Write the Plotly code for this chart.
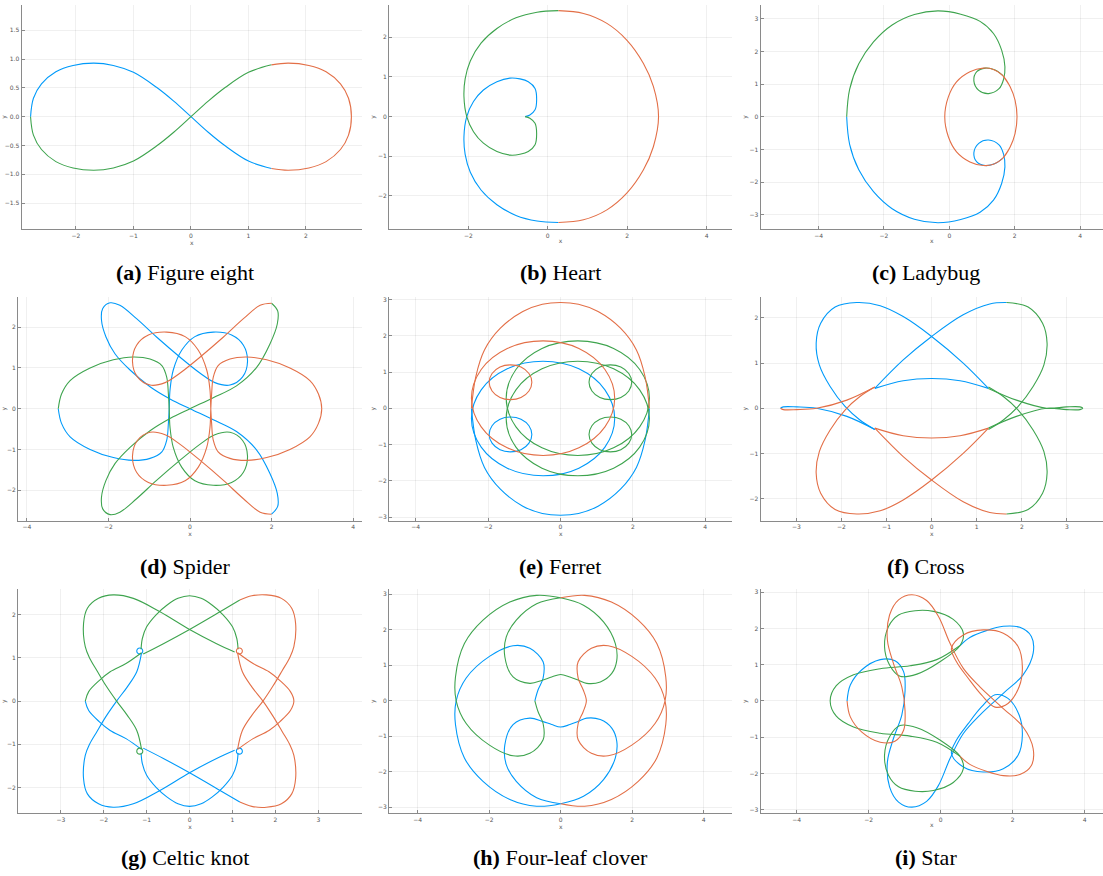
import plotly.graph_objects as go

BLUE = "#009AFA"
RED = "#E36F47"
GREEN = "#3EA44E"

# ---------------- (a) Figure eight ----------------
fig8_blue_x = [1.40, 1.0, 0.6, 0.3, 0.0, -0.3, -0.6, -1.0, -1.35, -1.69, -2.05, -2.35, -2.6, -2.74, -2.79]
fig8_blue_y = [-0.90, -0.77, -0.51, -0.27, 0.0, 0.27, 0.51, 0.77, 0.89, 0.93, 0.89, 0.78, 0.57, 0.32, 0.0]
fig8_green_x = [-2.79, -2.74, -2.6, -2.35, -2.05, -1.69, -1.35, -1.0, -0.6, -0.3, 0.0, 0.3, 0.6, 1.0, 1.40]
fig8_green_y = [0.0, -0.32, -0.57, -0.78, -0.89, -0.93, -0.89, -0.77, -0.51, -0.27, 0.0, 0.27, 0.51, 0.77, 0.90]
fig8_red_x = [1.40, 1.69, 2.05, 2.35, 2.6, 2.74, 2.79, 2.74, 2.6, 2.35, 2.05, 1.69, 1.40]
fig8_red_y = [0.90, 0.93, 0.89, 0.78, 0.57, 0.32, 0.0, -0.32, -0.57, -0.78, -0.89, -0.93, -0.90]

# ---------------- (b) Heart ----------------
heart_blue_x = [-0.57, -0.45, -0.32, -0.28, -0.32, -0.49, -0.70, -0.95, -1.28, -1.62, -1.87, -2.04,
                -2.11, -2.08, -1.95, -1.68, -1.28, -0.80, -0.27, 0.27]
heart_blue_y = [0.0, 0.04, 0.17, 0.42, 0.71, 0.88, 0.95, 0.97, 0.88, 0.67, 0.38, 0.0,
                -0.50, -0.95, -1.40, -1.85, -2.22, -2.49, -2.63, -2.67]
heart_green_x = [0.27, -0.27, -0.80, -1.28, -1.68, -1.95, -2.08, -2.11, -2.04, -1.87, -1.62, -1.28,
                 -0.95, -0.70, -0.49, -0.32, -0.28, -0.32, -0.45, -0.57]
heart_green_y = [2.67, 2.63, 2.49, 2.22, 1.85, 1.40, 0.95, 0.50, 0.0, -0.38, -0.67, -0.88,
                 -0.97, -0.95, -0.88, -0.71, -0.42, -0.17, -0.04, 0.0]
heart_red_x = [0.27, 0.90, 1.49, 1.99, 2.41, 2.66, 2.79, 2.66, 2.41, 1.99, 1.49, 0.90, 0.27]
heart_red_y = [2.67, 2.60, 2.35, 1.93, 1.34, 0.76, 0.0, -0.76, -1.34, -1.93, -2.35, -2.60, -2.67]

# ---------------- (c) Ladybug ----------------
lady_green_x = [-3.14, -3.05, -2.77, -2.32, -1.75, -1.07, -0.35, 0.35, 0.94, 1.35, 1.60,
                1.70, 1.66, 1.52, 1.20, 0.90, 0.75, 0.84, 1.10, 1.40, 1.63]
lady_green_y = [0.0, 0.84, 1.62, 2.29, 2.81, 3.13, 3.24, 3.14, 2.92, 2.55, 2.04,
                1.53, 1.15, 0.86, 0.71, 0.81, 1.10, 1.38, 1.49, 1.43, 1.27]
lady_red_x = [1.63, 1.86, 2.01, 2.07, 2.01, 1.86, 1.63, 1.35, 1.04, 0.63, 0.22, -0.03, -0.14, -0.03,
              0.22, 0.63, 1.04, 1.35, 1.63, 1.86, 2.01, 2.07, 2.01, 1.86, 1.63]
lady_red_y = [1.27, 0.92, 0.51, 0.0, -0.51, -0.92, -1.27, -1.45, -1.49, -1.38, -1.07, -0.61, 0.0, 0.61,
              1.07, 1.38, 1.49, 1.45, 1.27, 0.92, 0.51, 0.0, -0.51, -0.92, -1.27]
lady_blue_x = [1.63, 1.40, 1.10, 0.84, 0.75, 0.90, 1.20, 1.52, 1.66, 1.70, 1.60, 1.35, 0.94, 0.35,
               -0.35, -1.07, -1.75, -2.32, -2.77, -3.05, -3.14]
lady_blue_y = [-1.27, -1.43, -1.49, -1.38, -1.10, -0.81, -0.71, -0.86, -1.15, -1.53, -2.04, -2.55, -2.92, -3.14,
               -3.24, -3.13, -2.81, -2.29, -1.62, -0.84, 0.0]

# ---------------- (d) Spider ----------------
spider_blue_x = [-3.23, -3.15, -2.94, -2.45, -1.88, -1.39, -0.98, -0.69, -0.57, -0.53,
                 -0.51, -0.49, -0.41, -0.20, 0.12, 0.57, 1.02, 1.31, 1.41, 1.29,
                 0.98, 0.61, 0.25, -0.25, -0.82, -1.31, -1.72, -1.96, -2.14, -2.17,
                 -2.06, -1.84, -1.47, -0.98, -0.49, 0.0, 0.57, 1.14, 1.63, 1.96,
                 2.14, 2.15, 2.00]
spider_blue_y = [0.0, -0.36, -0.69, -1.00, -1.20, -1.27, -1.22, -1.06, -0.77, -0.36,
                 0.0, 0.46, 0.95, 1.44, 1.77, 1.88, 1.81, 1.56, 1.16, 0.78,
                 0.58, 0.64, 0.87, 1.27, 1.76, 2.21, 2.54, 2.60, 2.46, 2.17,
                 1.76, 1.35, 0.95, 0.54, 0.24, 0.0, -0.27, -0.56, -1.01, -1.59,
                 -2.08, -2.40, -2.59]
spider_green_x = [2.00, 2.15, 2.14, 1.96, 1.63, 1.14, 0.57, 0.0, -0.49, -0.98,
                  -1.47, -1.84, -2.06, -2.17, -2.14, -1.96, -1.72, -1.31, -0.82, -0.25,
                  0.25, 0.61, 0.98, 1.29, 1.41, 1.31, 1.02, 0.57, 0.12, -0.20,
                  -0.41, -0.49, -0.51, -0.53, -0.57, -0.69, -0.98, -1.39, -1.88, -2.45,
                  -2.94, -3.15, -3.23]
spider_green_y = [2.59, 2.40, 2.08, 1.59, 1.01, 0.56, 0.27, 0.0, -0.24, -0.54,
                  -0.95, -1.35, -1.76, -2.17, -2.46, -2.60, -2.54, -2.21, -1.76, -1.27,
                  -0.87, -0.64, -0.58, -0.78, -1.16, -1.56, -1.81, -1.88, -1.77, -1.44,
                  -0.95, -0.46, 0.0, 0.36, 0.77, 1.06, 1.22, 1.27, 1.20, 1.00,
                  0.69, 0.36, 0.0]
spider_red_x = [2.00, 1.72, 1.31, 0.82, 0.25, -0.25, -0.61, -0.98, -1.29, -1.41,
                -1.31, -1.02, -0.57, -0.12, 0.20, 0.41, 0.49, 0.51, 0.53, 0.57,
                0.69, 0.98, 1.39, 1.88, 2.45, 2.94, 3.15, 3.23, 3.15, 2.94,
                2.45, 1.88, 1.39, 0.98, 0.69, 0.57, 0.53, 0.51, 0.49, 0.41,
                0.20, -0.12, -0.57, -1.02, -1.31, -1.41, -1.29, -0.98, -0.61, -0.25,
                0.25, 0.82, 1.31, 1.72, 2.00]
spider_red_y = [-2.59, -2.54, -2.21, -1.76, -1.27, -0.87, -0.64, -0.58, -0.78, -1.16,
                -1.56, -1.81, -1.88, -1.77, -1.44, -0.95, -0.46, 0.0, 0.36, 0.77,
                1.06, 1.22, 1.27, 1.20, 1.00, 0.69, 0.36, 0.0, -0.36, -0.69,
                -1.00, -1.20, -1.27, -1.22, -1.06, -0.77, -0.36, 0.0, 0.46, 0.95,
                1.44, 1.77, 1.88, 1.81, 1.56, 1.16, 0.78, 0.58, 0.64, 0.87,
                1.27, 1.76, 2.21, 2.54, 2.59]

# ---------------- (e) Ferret ----------------
ferret_red_x = [-2.46, -2.34, -2.10, -1.66, -1.04, -0.50, 0.0, 0.50, 1.04, 1.66, 2.10, 2.34, 2.46, None,
                1.50, 1.23, 0.51, -0.48, -1.47, -2.19, -2.46, -2.19, -1.47, -0.48, 0.51, 1.23, 1.50, None,
                -0.79, -0.87, -1.09, -1.38, -1.67, -1.89, -1.97, -1.89, -1.67, -1.38, -1.09, -0.87, -0.79]
ferret_red_y = [0.0, 0.87, 1.61, 2.21, 2.67, 2.87, 2.92, 2.87, 2.67, 2.21, 1.61, 0.87, 0.0, None,
                0.28, 1.07, 1.65, 1.86, 1.65, 1.07, 0.28, -0.51, -1.09, -1.30, -1.09, -0.51, 0.28, None,
                0.72, 0.96, 1.14, 1.20, 1.14, 0.96, 0.72, 0.48, 0.30, 0.24, 0.30, 0.48, 0.72]
ferret_blue_x = [-2.46, -2.34, -2.10, -1.66, -1.04, -0.50, 0.0, 0.50, 1.04, 1.66, 2.10, 2.34, 2.46, None,
                 1.50, 1.23, 0.51, -0.48, -1.47, -2.19, -2.46, -2.19, -1.47, -0.48, 0.51, 1.23, 1.50, None,
                 -0.79, -0.87, -1.09, -1.38, -1.67, -1.89, -1.97, -1.89, -1.67, -1.38, -1.09, -0.87, -0.79]
ferret_blue_y = [0.0, -0.88, -1.63, -2.23, -2.70, -2.90, -2.95, -2.90, -2.70, -2.23, -1.63, -0.88, 0.0, None,
                 -0.28, -1.07, -1.65, -1.86, -1.65, -1.07, -0.28, 0.51, 1.09, 1.30, 1.09, 0.51, -0.28, None,
                 -0.72, -0.96, -1.14, -1.20, -1.14, -0.96, -0.72, -0.48, -0.30, -0.24, -0.30, -0.48, -0.72]
ferret_green_x = [-1.50, -1.23, -0.51, 0.48, 1.47, 2.19, 2.46, 2.19, 1.47, 0.48, -0.51, -1.23, -1.50, None,
                  -1.50, -1.23, -0.51, 0.48, 1.47, 2.19, 2.46, 2.19, 1.47, 0.48, -0.51, -1.23, -1.50, None,
                  0.79, 0.87, 1.09, 1.38, 1.67, 1.89, 1.97, 1.89, 1.67, 1.38, 1.09, 0.87, 0.79, None,
                  0.79, 0.87, 1.09, 1.38, 1.67, 1.89, 1.97, 1.89, 1.67, 1.38, 1.09, 0.87, 0.79]
ferret_green_y = [0.28, 1.07, 1.65, 1.86, 1.65, 1.07, 0.28, -0.51, -1.09, -1.30, -1.09, -0.51, 0.28, None,
                  -0.28, -1.07, -1.65, -1.86, -1.65, -1.07, -0.28, 0.51, 1.09, 1.30, 1.09, 0.51, -0.28, None,
                  0.72, 0.96, 1.14, 1.20, 1.14, 0.96, 0.72, 0.48, 0.30, 0.24, 0.30, 0.48, 0.72, None,
                  -0.72, -0.96, -1.14, -1.20, -1.14, -0.96, -0.72, -0.48, -0.30, -0.24, -0.30, -0.48, -0.72]

# ---------------- (f) Cross ----------------
cross_blue_x = [-1.26, -0.63, 0.0, 0.70, 1.29, 1.66, None,
                -1.26, -0.63, 0.0, 0.63, 1.26, None,
                1.26, 0.70, 0.0, -0.63, -1.14, -1.66, -2.14, -2.46, -2.56, -2.49, -2.25, -1.92, -1.59, -1.26, None,
                -1.26, -1.88, -2.55, -2.99, -3.29, -3.35]
cross_blue_y = [0.44, 1.07, 1.59, 2.07, 2.31, 2.34, None,
                0.44, 0.61, 0.66, 0.61, 0.44, None,
                0.44, 1.00, 1.59, 2.03, 2.27, 2.34, 2.24, 1.88, 1.44, 0.96, 0.48, 0.04, -0.26, -0.47, None,
                -0.47, -0.18, 0.0, 0.03, 0.03, 0.0]
cross_red_x = [-1.26, -0.63, 0.0, 0.70, 1.29, 1.66, None,
               -1.26, -0.63, 0.0, 0.63, 1.26, None,
               1.26, 0.70, 0.0, -0.63, -1.14, -1.66, -2.14, -2.46, -2.56, -2.49, -2.25, -1.92, -1.59, -1.26, None,
               -1.26, -1.88, -2.55, -2.99, -3.29, -3.35]
cross_red_y = [-0.44, -1.07, -1.59, -2.07, -2.31, -2.34, None,
               -0.44, -0.61, -0.66, -0.61, -0.44, None,
               -0.44, -1.00, -1.59, -2.03, -2.27, -2.34, -2.24, -1.88, -1.44, -0.96, -0.48, -0.04, 0.26, 0.47, None,
               0.47, 0.18, 0.0, -0.03, -0.03, 0.0]
cross_green_x = [1.66, 2.14, 2.46, 2.56, 2.49, 2.25, 1.92, 1.59, 1.26, None,
                 1.66, 2.14, 2.46, 2.56, 2.49, 2.25, 1.92, 1.59, 1.26, None,
                 1.26, 1.88, 2.55, 2.99, 3.29, 3.35, 3.29, 2.99, 2.55, 1.88, 1.26]
cross_green_y = [2.34, 2.24, 1.88, 1.44, 0.96, 0.48, 0.04, -0.26, -0.47, None,
                 -2.34, -2.24, -1.88, -1.44, -0.96, -0.48, -0.04, 0.26, 0.47, None,
                 0.44, 0.18, 0.0, 0.03, 0.03, 0.0, -0.03, -0.03, 0.0, -0.18, -0.44]

# ---------------- (g) Celtic knot ----------------
celtic_green_x = [-1.13, -1.10, -1.00, -0.78, -0.53, -0.27, 0.0, 0.27, 0.53, 0.78, 1.00, 1.10, 1.13, None,
                  -1.12, -1.23, -1.45, -1.70, -1.95, -2.16, -2.33, -2.43, -2.47, -2.38, -2.12, -1.78, -1.31,
                  -0.69, 0.0, 0.63, 1.05, None,
                  -1.08, -0.61, 0.0, 0.71, 1.17, None,
                  -1.12, -1.48, -1.85, -2.10, -2.35, -2.43, None,
                  -1.09, -1.11, -1.16, -1.21, -1.23, -1.21, -1.16, -1.11, -1.09]
celtic_green_y = [1.20, 1.45, 1.72, 2.00, 2.22, 2.38, 2.44, 2.38, 2.22, 2.00, 1.72, 1.45, 1.20, None,
                  -1.11, -0.68, -0.33, 0.0, 0.36, 0.71, 1.00, 1.26, 1.80, 2.15, 2.38, 2.46, 2.38,
                  2.07, 1.66, 1.33, 1.14, None,
                  1.09, 1.33, 1.66, 2.07, 2.34, None,
                  1.12, 0.87, 0.68, 0.48, 0.22, 0.0, None,
                  -1.16, -1.11, -1.09, -1.11, -1.16, -1.21, -1.23, -1.21, -1.16]
celtic_blue_x = [-1.13, -1.10, -1.00, -0.78, -0.53, -0.27, 0.0, 0.27, 0.53, 0.78, 1.00, 1.10, 1.13, None,
                 -1.12, -1.23, -1.45, -1.70, -1.95, -2.16, -2.33, -2.43, -2.47, -2.38, -2.12, -1.78, -1.31,
                 -0.69, 0.0, 0.63, 1.05, None,
                 -1.08, -0.61, 0.0, 0.71, 1.17, None,
                 -2.43, -2.35, -2.10, -1.85, -1.48, -1.12, None,
                 -1.09, -1.11, -1.16, -1.21, -1.23, -1.21, -1.16, -1.11, -1.09, None,
                 1.23, 1.21, 1.16, 1.11, 1.09, 1.11, 1.16, 1.21, 1.23]
celtic_blue_y = [-1.20, -1.45, -1.72, -2.00, -2.22, -2.38, -2.44, -2.38, -2.22, -2.00, -1.72, -1.45, -1.20, None,
                 1.11, 0.68, 0.33, 0.0, -0.36, -0.71, -1.00, -1.26, -1.80, -2.15, -2.38, -2.46, -2.38,
                 -2.07, -1.66, -1.33, -1.14, None,
                 -1.09, -1.33, -1.66, -2.07, -2.34, None,
                 0.0, -0.22, -0.48, -0.68, -0.87, -1.12, None,
                 1.16, 1.21, 1.23, 1.21, 1.16, 1.11, 1.09, 1.11, 1.16, None,
                 -1.16, -1.11, -1.09, -1.11, -1.16, -1.21, -1.23, -1.21, -1.16]
celtic_red_x = [1.17, 1.45, 1.79, 2.14, 2.38, 2.47, 2.43, 2.33, 2.16, 1.95, 1.71, 1.45, 1.23, 1.12, None,
                1.17, 1.45, 1.79, 2.14, 2.38, 2.47, 2.43, 2.33, 2.16, 1.95, 1.71, 1.45, 1.23, 1.12, None,
                1.12, 1.48, 1.85, 2.10, 2.35, 2.43, 2.35, 2.10, 1.85, 1.48, 1.12, None,
                1.23, 1.21, 1.16, 1.11, 1.09, 1.11, 1.16, 1.21, 1.23]
celtic_red_y = [2.34, 2.44, 2.46, 2.38, 2.15, 1.80, 1.26, 1.00, 0.71, 0.36, 0.0, -0.33, -0.68, -1.11, None,
                -2.34, -2.44, -2.46, -2.38, -2.15, -1.80, -1.26, -1.00, -0.71, -0.36, 0.0, 0.33, 0.68, 1.11, None,
                1.12, 0.87, 0.68, 0.48, 0.22, 0.0, -0.22, -0.48, -0.68, -0.87, -1.12, None,
                1.16, 1.11, 1.09, 1.11, 1.16, 1.21, 1.23, 1.21, 1.16]

# ---------------- (h) Four-leaf clover ----------------
clover_green_x = [0.0, -0.67, -1.24, -1.52, -1.56, -1.33, -0.86, -0.51, -0.25, 0.0,
                  0.26, 0.50, 0.73, 1.11, 1.43, 1.57, 1.53, 1.20, 0.64, 0.0,
                  -0.67, -1.42, -2.17, -2.69, -2.94, -2.92, -2.64, -1.99, -1.33, -0.86,
                  -0.49, -0.49, -0.63, -0.72]
clover_green_y = [2.90, 2.73, 2.27, 1.80, 1.24, 0.67, 0.49, 0.58, 0.67, 0.74,
                  0.67, 0.58, 0.49, 0.53, 0.77, 1.14, 1.61, 2.22, 2.69, 2.90,
                  2.97, 2.78, 2.27, 1.61, 0.67, 0.0, -0.64, -1.25, -1.55, -1.48,
                  -1.10, -0.64, -0.31, 0.0]
clover_blue_x = [-0.72, -0.63, -0.49, -0.49, -0.86, -1.33, -1.99, -2.64, -2.92, -2.94,
                 -2.69, -2.17, -1.42, -0.67, 0.0, 0.64, 1.20, 1.53, 1.57, 1.43,
                 1.11, 0.73, 0.50, 0.26, 0.0, -0.25, -0.51, -0.86, -1.33, -1.56,
                 -1.52, -1.24, -0.67, 0.0]
clover_blue_y = [0.0, 0.31, 0.64, 1.10, 1.48, 1.55, 1.25, 0.64, 0.0, -0.67,
                 -1.61, -2.27, -2.78, -2.97, -2.90, -2.69, -2.22, -1.61, -1.14, -0.77,
                 -0.53, -0.49, -0.58, -0.67, -0.74, -0.67, -0.58, -0.49, -0.67, -1.24,
                 -1.80, -2.27, -2.73, -2.90]
clover_red_x = [0.0, 0.67, 1.42, 2.17, 2.69, 2.94, 2.92, 2.64, 1.99, 1.33,
                0.86, 0.49, 0.49, 0.63, 0.72, 0.63, 0.49, 0.49, 0.86, 1.33,
                1.99, 2.64, 2.92, 2.94, 2.69, 2.17, 1.42, 0.67, 0.0]
clover_red_y = [-2.90, -2.97, -2.78, -2.27, -1.61, -0.67, 0.0, 0.64, 1.25, 1.55,
                1.48, 1.10, 0.64, 0.31, 0.0, -0.31, -0.64, -1.10, -1.48, -1.55,
                -1.25, -0.64, 0.0, 0.67, 1.61, 2.27, 2.78, 2.97, 2.90]

# ---------------- (i) Star ----------------
star_red_x = [-2.60, -2.51, -2.19, -1.68, -1.27, -1.03, -0.99, -1.08, -1.31, -1.48,
              -1.42, -1.17, -0.80, -0.39, -0.06, 0.26, 0.63, 1.09, 1.74, 2.29, 2.57, 2.52, 2.20, 1.74,
              1.27, 0.81, 0.54, None,
              0.30, 0.63, 1.18, 1.74, 2.15, 2.27, 2.18, 1.87, 1.51, 1.14, 0.77, 0.44, 0.30]
star_red_y = [0.0, -0.44, -0.86, -1.14, -1.11, -0.81, -0.26, 0.39, 1.03, 1.68,
              2.37, 2.79, 2.93, 2.77, 2.33, 1.59, 0.90, 0.39, -0.21, -0.72, -1.32, -1.78, -2.03, -2.06,
              -1.94, -1.75, -1.53, None,
              1.45, 1.82, 1.96, 1.87, 1.50, 0.94, 0.39, -0.07, -0.17, 0.16, 0.62, 1.08, 1.45]
star_blue_x = [-2.60, -2.51, -2.19, -1.68, -1.27, -1.03, -0.99, -1.08, -1.31, -1.48,
               -1.42, -1.17, -0.80, -0.39, -0.06, 0.26, 0.63, 1.09, 1.74, 2.29, 2.57, 2.52, 2.20, 1.74,
               1.27, 0.81, 0.54, None,
               0.30, 0.63, 1.18, 1.74, 2.15, 2.27, 2.18, 1.87, 1.51, 1.14, 0.77, 0.44, 0.30]
star_blue_y = [0.0, 0.44, 0.86, 1.14, 1.11, 0.81, 0.26, -0.39, -1.03, -1.68,
               -2.37, -2.79, -2.93, -2.77, -2.33, -1.59, -0.90, -0.39, 0.21, 0.72, 1.32, 1.78, 2.03, 2.06,
               1.94, 1.75, 1.53, None,
               -1.45, -1.82, -1.96, -1.87, -1.50, -0.94, -0.39, 0.07, 0.17, -0.16, -0.62, -1.08, -1.45]
star_green_x = [0.54, -0.11, -0.85, -1.68, -2.42, -2.90, -3.07, -2.90, -2.42, -1.68, -0.85, -0.11, 0.54, None,
                0.54, 0.63, 0.35, -0.20, -0.71, -1.17, -1.45, -1.56, -1.42, -1.13, -0.66, -0.02, 0.54, None,
                0.54, 0.63, 0.35, -0.20, -0.71, -1.17, -1.45, -1.56, -1.42, -1.13, -0.66, -0.02, 0.54]
star_green_y = [1.53, 1.14, 0.97, 0.89, 0.72, 0.42, 0.0, -0.42, -0.72, -0.89, -0.97, -1.14, -1.53, None,
                1.53, 1.87, 2.25, 2.47, 2.49, 2.37, 2.05, 1.50, 0.99, 0.68, 0.74, 1.08, 1.53, None,
                -1.53, -1.87, -2.25, -2.47, -2.49, -2.37, -2.05, -1.50, -0.99, -0.68, -0.74, -1.08, -1.53]

# ---------------- panel captions and ticks ----------------
panel_tags = ["(a)", "(b)", "(c)", "(d)", "(e)", "(f)", "(g)", "(h)", "(i)"]
panel_names = ["Figure eight", "Heart", "Ladybug", "Spider", "Ferret", "Cross",
               "Celtic knot", "Four-leaf clover", "Star"]

x_ticks = [[-2, -1, 0, 1, 2], [-2, 0, 2, 4], [-4, -2, 0, 2, 4],
           [-4, -2, 0, 2, 4], [-4, -2, 0, 2, 4], [-3, -2, -1, 0, 1, 2, 3],
           [-3, -2, -1, 0, 1, 2, 3], [-4, -2, 0, 2, 4], [-4, -2, 0, 2, 4]]
y_ticks = [[-1.5, -1.0, -0.5, 0.0, 0.5, 1.0, 1.5], [-2, -1, 0, 1, 2], [-3, -2, -1, 0, 1, 2, 3],
           [-2, -1, 0, 1, 2], [-3, -2, -1, 0, 1, 2, 3], [-2, -1, 0, 1, 2],
           [-2, -1, 0, 1, 2], [-3, -2, -1, 0, 1, 2, 3], [-3, -2, -1, 0, 1, 2, 3]]

panel_series = [
    [(BLUE, fig8_blue_x, fig8_blue_y), (GREEN, fig8_green_x, fig8_green_y), (RED, fig8_red_x, fig8_red_y)],
    [(BLUE, heart_blue_x, heart_blue_y), (GREEN, heart_green_x, heart_green_y), (RED, heart_red_x, heart_red_y)],
    [(BLUE, lady_blue_x, lady_blue_y), (GREEN, lady_green_x, lady_green_y), (RED, lady_red_x, lady_red_y)],
    [(BLUE, spider_blue_x, spider_blue_y), (GREEN, spider_green_x, spider_green_y), (RED, spider_red_x, spider_red_y)],
    [(BLUE, ferret_blue_x, ferret_blue_y), (GREEN, ferret_green_x, ferret_green_y), (RED, ferret_red_x, ferret_red_y)],
    [(BLUE, cross_blue_x, cross_blue_y), (GREEN, cross_green_x, cross_green_y), (RED, cross_red_x, cross_red_y)],
    [(BLUE, celtic_blue_x, celtic_blue_y), (GREEN, celtic_green_x, celtic_green_y), (RED, celtic_red_x, celtic_red_y)],
    [(BLUE, clover_blue_x, clover_blue_y), (GREEN, clover_green_x, clover_green_y), (RED, clover_red_x, clover_red_y)],
    [(BLUE, star_blue_x, star_blue_y), (GREEN, star_green_x, star_green_y), (RED, star_red_x, star_red_y)],
]

# ---------------- page geometry (pixels) ----------------
W, H = 1103, 876
plot_boxes = [  # left, right, top, bottom of each plotting area
    (21.7, 361.7, 4.7, 229.3), (389.3, 732.0, 4.7, 229.3), (760.7, 1103.0, 4.7, 229.3),
    (18.3, 361.7, 296.7, 520.7), (389.3, 732.3, 296.7, 520.7), (760.7, 1103.0, 296.7, 520.7),
    (18.3, 361.7, 589.3, 813.3), (389.3, 732.3, 589.3, 813.3), (760.7, 1103.0, 589.3, 813.3),
]
x_ranges = [[-2.944, 2.969], [-3.99, 4.64], [-5.77, 4.70], [-4.21, 4.21], [-4.73, 4.75],
            [-3.79, 3.80], [-3.99, 4.01], [-4.79, 4.80], [-5.00, 4.51]]
y_ranges = [[-1.955, 1.944], [-2.84, 2.82], [-3.44, 3.43], [-2.75, 2.75], [-3.10, 3.08],
            [-2.49, 2.47], [-2.60, 2.59], [-3.17, 3.14], [-3.10, 3.08]]
caption_x = [185, 560, 926]
caption_y = [272, 566, 857]


def tick_label(v, decimals):
    s = f"{abs(v):.{decimals}f}"
    return ("\u2212" + s) if v < 0 else s


fig = go.Figure()
layout = dict(
    width=W, height=H, margin=dict(l=0, r=0, t=0, b=0),
    paper_bgcolor="white", plot_bgcolor="white", showlegend=False,
    font=dict(family="DejaVu Sans", size=6, color="#555555"),
)
annotations = []

for k in range(9):
    n = k + 1
    xa = "xaxis" if n == 1 else f"xaxis{n}"
    ya = "yaxis" if n == 1 else f"yaxis{n}"
    xr = "x" if n == 1 else f"x{n}"
    yr = "y" if n == 1 else f"y{n}"
    left, right, top, bottom = plot_boxes[k]
    ydec = 1 if k == 0 else 0

    for color, xs, ys in panel_series[k]:
        fig.add_trace(go.Scatter(
            x=xs, y=ys, mode="lines", xaxis=xr, yaxis=yr,
            line=dict(color=color, width=1.1, shape="spline", smoothing=1.0),
            connectgaps=False, hoverinfo="skip",
        ))

    common = dict(
        showline=True, linecolor="#8a8a8a", linewidth=1.3, mirror=False,
        showgrid=True, gridcolor="rgba(0,0,0,0.06)", gridwidth=0.6,
        zeroline=False, ticks="inside", ticklen=3, tickcolor="#8a8a8a", tickwidth=0.8,
        tickfont=dict(size=6, color="#555555"), fixedrange=True,
    )
    layout[xa] = dict(
        common, domain=[left / W, right / W], range=x_ranges[k], anchor=yr,
        tickmode="array", tickvals=x_ticks[k],
        ticktext=[tick_label(v, 0) for v in x_ticks[k]],
        title=dict(text="x", font=dict(size=6, color="#555555"), standoff=1),
    )
    layout[ya] = dict(
        common, domain=[1 - bottom / H, 1 - top / H], range=y_ranges[k], anchor=xr,
        tickmode="array", tickvals=y_ticks[k],
        ticktext=[tick_label(v, ydec) for v in y_ticks[k]],
        title=dict(text="y", font=dict(size=6, color="#555555"), standoff=1),
    )

    annotations.append(dict(
        xref="paper", yref="paper",
        x=caption_x[k % 3] / W, y=1 - caption_y[k // 3] / H,
        xanchor="center", yanchor="middle", showarrow=False,
        text=f"<b>{panel_tags[k]}</b> {panel_names[k]}",
        font=dict(family="Liberation Serif", size=22, color="black"),
    ))

layout["annotations"] = annotations
fig.update_layout(**layout)
fig.write_html("out.html")
